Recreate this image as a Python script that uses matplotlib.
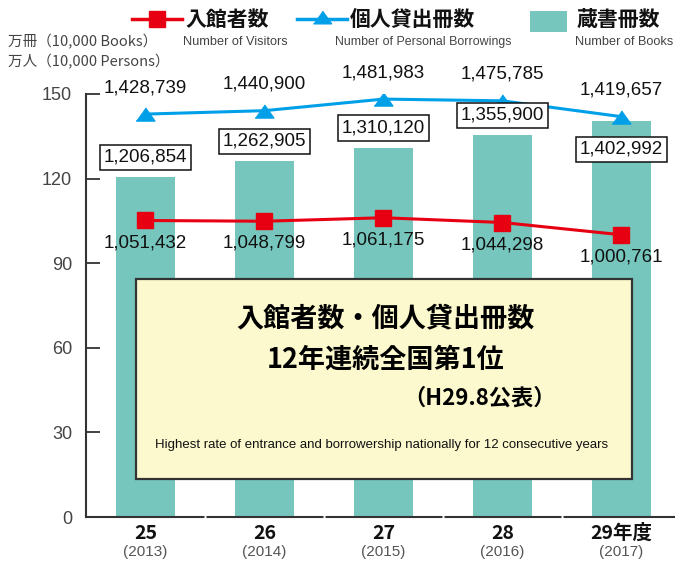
import matplotlib
matplotlib.use("Agg")
import matplotlib.pyplot as plt
from matplotlib.patches import Rectangle
from matplotlib.lines import Line2D

# data (蔵書冊数 / 入館者数 / 個人貸出冊数)
years = ["25", "26", "27", "28", "29年度"]
years_west = ["(2013)", "(2014)", "(2015)", "(2016)", "(2017)"]
books = [1206854, 1262905, 1310120, 1355900, 1402992]
visitors = [1051432, 1048799, 1061175, 1044298, 1000761]
borrowings = [1428739, 1440900, 1481983, 1475785, 1419657]
yticks = [0, 30, 60, 90, 120, 150]

W, H = 675, 562
TEAL = "#76c6bd"
RED = "#e60012"
BLUE = "#00a0e9"
JP = ["Noto Sans CJK JP", "DejaVu Sans"]
NUM = ["Liberation Sans", "DejaVu Sans"]


def fx(x, y):
    return x / W, 1 - y / H


fig = plt.figure(figsize=(W / 100, H / 100), dpi=100)
ax = fig.add_axes([86 / W, 45 / H, (W - 86) / W, 423 / H])

x = list(range(len(years)))
b = [v / 1e4 for v in books]
v = [v / 1e4 for v in visitors]
r = [v / 1e4 for v in borrowings]

ax.bar(x, b, width=0.49, color=TEAL, zorder=1)
ax.plot(x, v, color=RED, lw=2.2, marker="s", ms=11.5, zorder=4)
tri = [(-1, -0.7), (1, -0.7), (0, 0.7)]
ax.plot(x, r, color=BLUE, lw=2.2, marker=tri, ms=13.5, zorder=4)

ax.set_xlim(-0.5, 4.45)
ax.set_ylim(0, 150)
for s in ["top", "right"]:
    ax.spines[s].set_visible(False)
for s in ["left", "bottom"]:
    ax.spines[s].set_color("#333333")
    ax.spines[s].set_linewidth(1.5)
ax.set_yticks(yticks)
ax.set_yticklabels([str(t) for t in yticks], fontfamily=NUM, fontsize=13, color="#444444")
ax.tick_params(axis="y", direction="in", length=10, width=1.3, color="#333333", pad=10)
ax.set_xticks([])

# small gaps in the baseline between the years
for g in [0.5, 1.5, 2.5, 3.5]:
    ax.plot([g - 0.011, g + 0.011], [0, 0], color="white", lw=2.5, zorder=3,
            clip_on=False, solid_capstyle="butt")

# value labels
for i in x:
    ax.annotate(f"{books[i]:,}", (i, b[i]), xytext=(0, 14 if i < 4 else -20),
                textcoords="offset points", ha="center", va="center",
                fontsize=13.5, fontfamily=NUM, color="#111111", zorder=5,
                bbox=dict(boxstyle="square,pad=0.22", fc="white", ec="#111111", lw=1.1))
    ax.annotate(f"{visitors[i]:,}", (i, v[i]), xytext=(0, -16),
                textcoords="offset points", ha="center", va="center",
                fontsize=13.5, fontfamily=NUM, color="#111111", zorder=5)
    ax.annotate(f"{borrowings[i]:,}", (i, r[i]), xytext=(0, 19),
                textcoords="offset points", ha="center", va="center",
                fontsize=13.5, fontfamily=NUM, color="#111111", zorder=5)
    ax.annotate(years[i], (i, 0), xytext=(0, -12), textcoords="offset points",
                ha="center", va="center", fontsize=14, fontweight="bold",
                fontfamily=JP, color="#111111", annotation_clip=False)
    ax.annotate(years_west[i], (i, 0), xytext=(0, -25), textcoords="offset points",
                ha="center", va="center", fontsize=11, fontfamily=NUM,
                color="#555555", annotation_clip=False)

# highlight box
x0, y0 = fx(136, 479)
x1, y1 = fx(632, 279)
fig.add_artist(Rectangle((x0, y0), x1 - x0, y1 - y0, transform=fig.transFigure,
                         fc="#fdf9cf", ec="#333333", lw=1.6, zorder=3))
fig.text(*fx(385, 318), "入館者数・個人貸出冊数", ha="center", va="center",
         fontsize=19.5, fontweight="bold", fontfamily=JP, zorder=6)
fig.text(*fx(386, 360), "12年連続全国第1位", ha="center", va="center",
         fontsize=19.5, fontweight="bold", fontfamily=JP, zorder=6)
fig.text(*fx(480, 398), "（H29.8公表）", ha="center", va="center",
         fontsize=16, fontweight="bold", fontfamily=JP, zorder=6)
fig.text(*fx(382, 445),
         "Highest rate of entrance and borrowership nationally for 12 consecutive years",
         ha="center", va="center", fontsize=9.5, fontfamily=NUM, color="#111111", zorder=6)

# legend
fig.add_artist(Line2D([132 / W, 182 / W], [1 - 19 / H] * 2, color=RED, lw=2.5))
fig.add_artist(Line2D([157 / W], [1 - 19 / H], color=RED, marker="s", ms=11))
fig.add_artist(Line2D([297 / W, 347 / W], [1 - 19 / H] * 2, color=BLUE, lw=2.5))
fig.add_artist(Line2D([322 / W], [1 - 17 / H], color=BLUE, marker=tri, ms=13))
px0, py0 = fx(530, 32)
fig.add_artist(Rectangle((px0, py0), 37 / W, 21 / H, transform=fig.transFigure,
                         fc=TEAL, ec="none"))
fig.text(*fx(185, 19), "入館者数", ha="left", va="center", fontsize=15,
         fontweight="bold", fontfamily=JP, color="#111111")
fig.text(*fx(350, 19), "個人貸出冊数", ha="left", va="center", fontsize=15,
         fontweight="bold", fontfamily=JP, color="#111111")
fig.text(*fx(577, 19), "蔵書冊数", ha="left", va="center", fontsize=15,
         fontweight="bold", fontfamily=JP, color="#111111")
fig.text(*fx(183, 42), "Number of Visitors", ha="left", va="center", fontsize=9.2,
         fontfamily=NUM, color="#444444")
fig.text(*fx(335, 42), "Number of Personal Borrowings", ha="left", va="center",
         fontsize=8.9, fontfamily=NUM, color="#444444")
fig.text(*fx(673, 42), "Number of Books", ha="right", va="center", fontsize=9.2,
         fontfamily=NUM, color="#444444")

# units
fig.text(*fx(8, 42), "万冊（10,000 Books）", ha="left", va="center", fontsize=10.5,
         fontfamily=JP, color="#444444")
fig.text(*fx(8, 62), "万人（10,000 Persons）", ha="left", va="center", fontsize=10.5,
         fontfamily=JP, color="#444444")

fig.savefig("out.png", dpi=100)
